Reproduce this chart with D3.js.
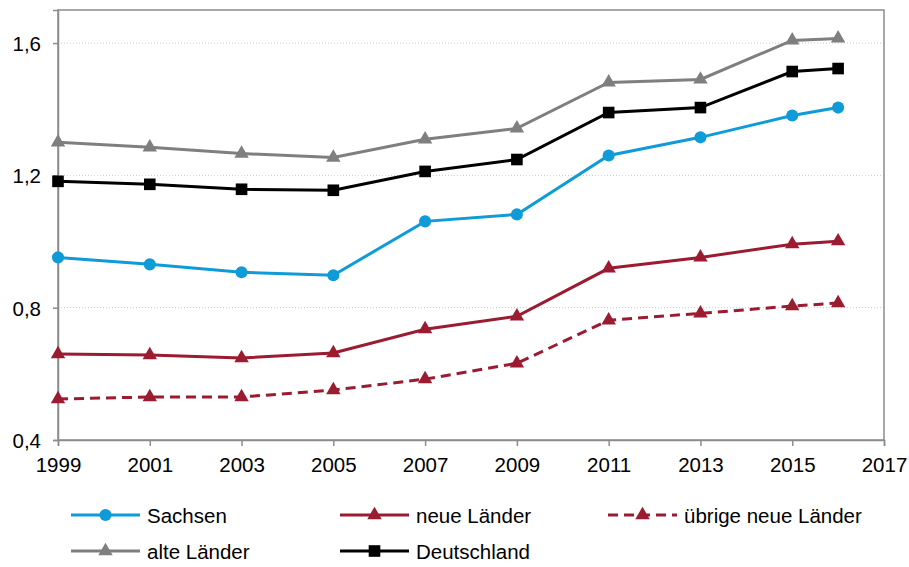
<!DOCTYPE html>
<html><head><meta charset="utf-8">
<script src="https://cdn.jsdelivr.net/npm/d3@7"></script>
<style>body{margin:0;background:#fff}svg{display:block}text{font-family:"Liberation Sans",Arial,sans-serif}</style>
</head><body><svg id="c" width="909" height="567"></svg>
<script>
const years = [1999, 2001, 2003, 2005, 2007, 2009, 2011, 2013, 2015, 2016];
const sachsen = [0.952, 0.931, 0.907, 0.898, 1.061, 1.082, 1.260, 1.315, 1.381, 1.405];
const neueLaender = [0.660, 0.657, 0.648, 0.663, 0.735, 0.774, 0.919, 0.952, 0.992, 1.001];
const uebrigeNeue = [0.524, 0.530, 0.530, 0.551, 0.584, 0.632, 0.762, 0.783, 0.805, 0.814];
const alteLaender = [1.300, 1.285, 1.266, 1.254, 1.309, 1.342, 1.481, 1.490, 1.608, 1.614];
const deutschland = [1.182, 1.173, 1.158, 1.155, 1.212, 1.248, 1.390, 1.405, 1.514, 1.523];
const xTicks = [1999, 2001, 2003, 2005, 2007, 2009, 2011, 2013, 2015, 2017];
const yTicks = [0.4, 0.8, 1.2, 1.6];

const series = [
  {name:"Sachsen", values:sachsen, color:"#0f9bd7", marker:"circle", dash:null},
  {name:"neue Länder", values:neueLaender, color:"#9b1b30", marker:"triangle", dash:null},
  {name:"übrige neue Länder", values:uebrigeNeue, color:"#9b1b30", marker:"triangle", dash:"10,6"},
  {name:"alte Länder", values:alteLaender, color:"#7f7f7f", marker:"triangle", dash:null},
  {name:"Deutschland", values:deutschland, color:"#000000", marker:"square", dash:null}
];

const svg = d3.select("#c");
const L=58, R=884, T=10, B=440;
const FS = 20.5;
const x = d3.scaleLinear().domain([1999,2017]).range([L,R]);
const y = d3.scaleLinear().domain([0.4,1.7]).range([B,T]);
const fmt = d => d3.format(".1f")(d).replace(".", ",");

// gridlines
svg.append("g").selectAll("line").data(yTicks.filter(d=>d>0.4)).join("line")
  .attr("x1",L).attr("x2",R).attr("y1",d=>y(d)).attr("y2",d=>y(d))
  .attr("stroke","#c8c8c8").attr("stroke-width",1).attr("stroke-dasharray","1,2");

// frame
svg.append("rect").attr("x",L).attr("y",T).attr("width",R-L).attr("height",B-T)
  .attr("fill","none").attr("stroke","#8c8c8c").attr("stroke-width",1.5);

// axes
const xAxis = svg.append("g").attr("transform",`translate(0,${B})`)
  .call(d3.axisBottom(x).tickValues(xTicks).tickFormat(d3.format("d")).tickSize(6).tickPadding(6));
const yAxis = svg.append("g").attr("transform",`translate(${L},0)`)
  .call(d3.axisLeft(y).tickValues(yTicks).tickFormat(fmt).tickSize(5).tickPadding(12));
[xAxis,yAxis].forEach(a=>{
  a.attr("font-size",null).attr("font-family",null);
  a.select(".domain").attr("stroke","#8c8c8c").attr("stroke-width",1.5);
  a.selectAll(".tick line").attr("stroke","#8c8c8c").attr("stroke-width",1.5);
  a.selectAll("text").style("font-size",FS+"px").attr("fill","#000").style("font-family","Liberation Sans, Arial, sans-serif");
});
xAxis.selectAll("text").attr("y",32).attr("dy",null);
yAxis.selectAll("text").attr("dy","0.36em");

const tri = d3.symbol().type(d3.symbolTriangle).size(90);
const sq = d3.symbol().type(d3.symbolSquare).size(135);
const circ = d3.symbol().type(d3.symbolCircle).size(115);
function markerPath(m){return m==="circle"?circ():m==="square"?sq():tri();}

const line = d3.line().x(d=>x(d[0])).y(d=>y(d[1]));
const order = ["übrige neue Länder","neue Länder","Sachsen","alte Länder","Deutschland"];
order.forEach(n=>{
  const s = series.find(q=>q.name===n);
  const pts = years.map((yr,i)=>[yr,s.values[i]]);
  const g = svg.append("g");
  g.append("path").datum(pts).attr("d",line).attr("fill","none")
    .attr("stroke",s.color).attr("stroke-width",3).attr("stroke-dasharray",s.dash);
  g.selectAll("path.m").data(pts).join("path").attr("class","m")
    .attr("d",markerPath(s.marker))
    .attr("transform",d=>`translate(${x(d[0])},${y(d[1])})`)
    .attr("fill",s.color);
});

// legend
const legPos = [
  {name:"Sachsen", lx:71, ly:515},
  {name:"neue Länder", lx:340, ly:515},
  {name:"übrige neue Länder", lx:608, ly:515},
  {name:"alte Länder", lx:71, ly:551},
  {name:"Deutschland", lx:340, ly:551}
];
legPos.forEach(p=>{
  const s = series.find(q=>q.name===p.name);
  const g = svg.append("g");
  g.append("line").attr("x1",p.lx).attr("x2",p.lx+69).attr("y1",p.ly).attr("y2",p.ly)
    .attr("stroke",s.color).attr("stroke-width",3).attr("stroke-dasharray",s.dash);
  g.append("path").attr("d",markerPath(s.marker))
    .attr("transform",`translate(${p.lx+34.5},${p.ly})`).attr("fill",s.color);
  g.append("text").attr("x",p.lx+76).attr("y",p.ly+7.5)
    .style("font-size",FS+"px").attr("fill","#000").text(s.name);
});
</script></body></html>
